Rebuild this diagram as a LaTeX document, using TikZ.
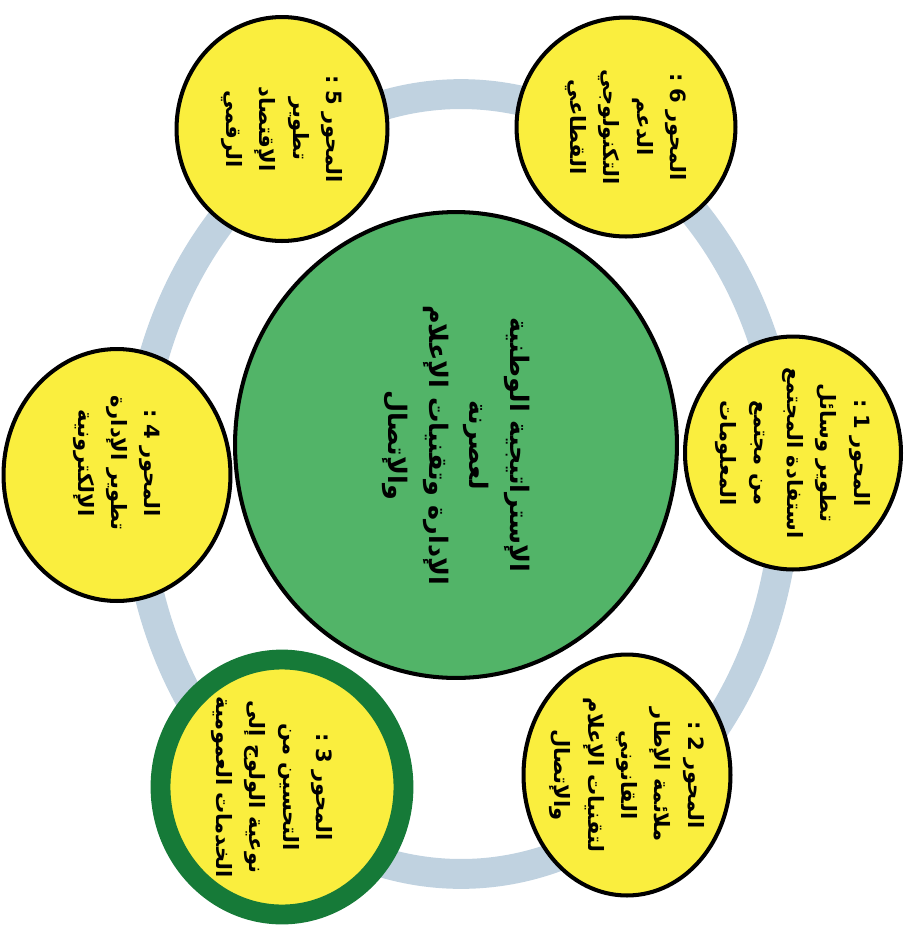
\documentclass[tikz,border=0pt]{standalone}
\usepackage{fontspec}
\newfontfamily\arabicfont[Script=Arabic]{DejaVu Sans}
\TeXXeTstate=1
\usetikzlibrary{shapes.geometric}

\definecolor{discyellow}{RGB}{250,238,62}
\definecolor{hubgreen}{RGB}{82,180,104}
\definecolor{rimgreen}{RGB}{22,122,56}
\definecolor{ringblue}{RGB}{192,210,224}

\begin{document}
\begin{tikzpicture}[
    x=0.02cm, y=-0.02cm,
    disc/.style={ellipse, draw=black, line width=2.3pt, fill=discyellow, inner sep=0pt},
    hub/.style={ellipse, draw=black, line width=2.3pt, fill=hubgreen, inner sep=0pt},
    axistext/.style={rotate=-90, align=center, font=\arabicfont\bfseries\fontsize{12}{19}\selectfont},
    hubtext/.style={rotate=-90, align=center, font=\arabicfont\bfseries\fontsize{14.5}{23}\selectfont}
]
\useasboundingbox (0,0) rectangle (905,931);

% Ring behind the axes
\draw [ringblue, line width=17pt] (461,484) ellipse [x radius=6.5cm, y radius=7.8cm];

% Axes
\node [disc, minimum width=4.32cm, minimum height=4.66cm] (axis1) at (793,453) {};
\node [disc, minimum width=4.14cm, minimum height=4.82cm] (axis2) at (627,775) {};
\node [disc, draw=rimgreen, line width=11.3pt, minimum width=4.86cm, minimum height=5.1cm] (axis3) at (282,787) {};
\node [disc, minimum width=4.54cm, minimum height=5.04cm] (axis4) at (117,475) {};
\node [disc, minimum width=4.22cm, minimum height=4.48cm] (axis5) at (282,129) {};
\node [disc, minimum width=4.38cm, minimum height=4.38cm] (axis6) at (626,127) {};

% Strategy in the middle
\node [hub, minimum width=8.84cm, minimum height=9.32cm] (strategy) at (456,445) {};

% Texts
\node [hubtext] (strategytext) at (strategy) {\beginR الإستراتيجية الوطنية\endR\\\beginR لعصرنة\endR\\\beginR الإدارة وتقنيات الإعلام\endR\\\beginR والإتصال\endR};

\node [axistext] (axis1text) at (axis1) {\beginR المحور 1 :\endR\\\beginR تطوير وسائل\endR\\\beginR استفادة المجتمع\endR\\\beginR من مجتمع\endR\\\beginR المعلومات\endR};
\node [axistext] (axis2text) at (axis2) {\beginR المحور 2 :\endR\\\beginR ملائمة الإطار\endR\\\beginR القانوني\endR\\\beginR لتقنيات الإعلام\endR\\\beginR والإتصال\endR};
\node [axistext] (axis3text) at ([xshift=-0.2cm]axis3) {\beginR المحور 3 :\endR\\\beginR التحسين من\endR\\\beginR نوعية الولوج إلى\endR\\\beginR الخدمات العمومية\endR};
\node [axistext] (axis4text) at ([yshift=0.24cm]axis4) {\beginR المحور 4 :\endR\\\beginR تطوير الإدارة\endR\\\beginR الإلكترونية\endR};
\node [axistext] (axis5text) at (axis5) {\beginR المحور 5 :\endR\\\beginR تطوير\endR\\\beginR الإقتصاد\endR\\\beginR الرقمي\endR};
\node [axistext] (axis6text) at (axis6) {\beginR المحور 6 :\endR\\\beginR الدعم\endR\\\beginR التكنولوجي\endR\\\beginR القطاعي\endR};

\end{tikzpicture}
\end{document}
